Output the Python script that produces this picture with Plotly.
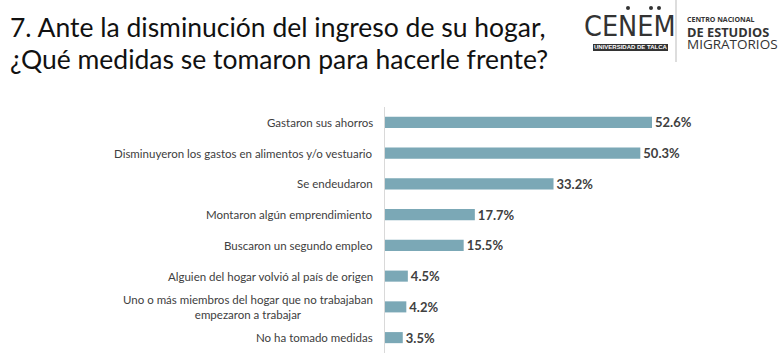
import plotly.graph_objects as go

categories = [
    "Gastaron sus ahorros",
    "Disminuyeron los gastos en alimentos y/o vestuario",
    "Se endeudaron",
    "Montaron algún emprendimiento",
    "Buscaron un segundo empleo",
    "Alguien del hogar volvió al país de origen",
    "Uno o más miembros del hogar que no trabajaban<br>empezaron a trabajar",
    "No ha tomado medidas",
]
values = [52.6, 50.3, 33.2, 17.7, 15.5, 4.5, 4.2, 3.5]

title_lines = ["7. Ante la disminución del ingreso de su hogar,",
               "¿Qué medidas se tomaron para hacerle frente?"]

W, H = 784, 356
ML, MR, MT, MB = 385, 0, 107, 3
PW, PH = W - ML - MR, H - MT - MB
PX_PER_UNIT = 5.076

def px(x):
    return (x - ML) / PW

def py(y):
    return 1 - (y - MT) / PH

BAR = "#7BA8B6"
FONT = "Lato, 'Open Sans', sans-serif"

fig = go.Figure(go.Bar(
    x=values, y=categories, orientation="h",
    marker=dict(color=BAR, line=dict(width=0)),
    width=0.36,
    texttemplate="%{x:.1f}%", textposition="outside", constraintext="none",
    textfont=dict(family=FONT, size=13, color="#404040", weight="bold"),
    cliponaxis=False, hoverinfo="skip",
))

annotations = []
for c in categories:
    annotations.append(dict(
        x=0, xref="paper", y=c, yref="y", text=c, showarrow=False,
        xanchor="right", yanchor="middle", align="center", xshift=-10,
        font=dict(family=FONT, size=11.5, color="#404040"),
    ))

for i, t in enumerate(title_lines):
    annotations.append(dict(
        x=px(8), xref="paper", y=py(45 + 32 * i), yref="paper", text=t,
        showarrow=False, xanchor="left", yanchor="bottom",
        font=dict(family=FONT, size=26.5, color="#111111"),
    ))

# logo
annotations += [
    dict(x=px(630), y=py(45), xref="paper", yref="paper", text="CENEM", showarrow=False,
         xanchor="center", yanchor="bottom",
         font=dict(family="'Liberation Sans Narrow', 'DejaVu Sans Condensed', sans-serif", size=28.5, color="#333333")),
    dict(x=px(630.5), y=py(47.5), xref="paper", yref="paper", text="UNIVERSIDAD DE TALCA", showarrow=False,
         xanchor="center", yanchor="middle",
         font=dict(family="'Liberation Sans Narrow', 'Liberation Sans', sans-serif", size=6, color="white", weight="bold")),
    dict(x=px(685), y=py(19), xref="paper", yref="paper", text="CENTRO NACIONAL", showarrow=False,
         xanchor="left", yanchor="middle", font=dict(family="'Open Sans', sans-serif", size=7, color="#333333", weight="bold")),
    dict(x=px(685), y=py(31.5), xref="paper", yref="paper", text="DE ESTUDIOS", showarrow=False,
         xanchor="left", yanchor="middle", font=dict(family="'Open Sans', sans-serif", size=12.8, color="#333333", weight="bold")),
    dict(x=px(685), y=py(44.5), xref="paper", yref="paper", text="MIGRATORIOS", showarrow=False,
         xanchor="left", yanchor="middle", font=dict(family="'Open Sans', sans-serif", size=13.5, color="#333333")),
]

shapes = [
    dict(type="rect", xref="paper", yref="paper", x0=px(593), x1=px(668), y0=py(51), y1=py(44),
         fillcolor="#333333", line=dict(width=0), layer="below"),
    dict(type="line", xref="paper", yref="paper", x0=px(676), x1=px(676), y0=py(0), y1=py(62),
         line=dict(color="#bbbbbb", width=1)),
]
for dx in (628, 651, 659):
    shapes.append(dict(type="circle", xref="paper", yref="paper", x0=px(dx - 2), x1=px(dx + 2),
                       y0=py(10), y1=py(6), fillcolor="#333333", line=dict(width=0)))

fig.update_layout(
    width=W, height=H, autosize=False,
    margin=dict(l=ML, r=MR, t=MT, b=MB, pad=0),
    paper_bgcolor="white", plot_bgcolor="white",
    showlegend=False,
    xaxis=dict(range=[0, PW / PX_PER_UNIT], visible=False, fixedrange=True),
    yaxis=dict(autorange="reversed", showticklabels=False, ticks="", showgrid=False,
               zeroline=False, showline=True, linecolor="#d9d9d9", linewidth=1,
               fixedrange=True),
    annotations=annotations, shapes=shapes,
    bargap=0.64,
)

fig.write_html("out.html", config={"displayModeBar": False})

with open("out.html", encoding="utf-8") as f:
    html = f.read()
html = html.replace("<body>", '<body style="margin:0;padding:0;overflow:hidden">', 1)
with open("out.html", "w", encoding="utf-8") as f:
    f.write(html)
